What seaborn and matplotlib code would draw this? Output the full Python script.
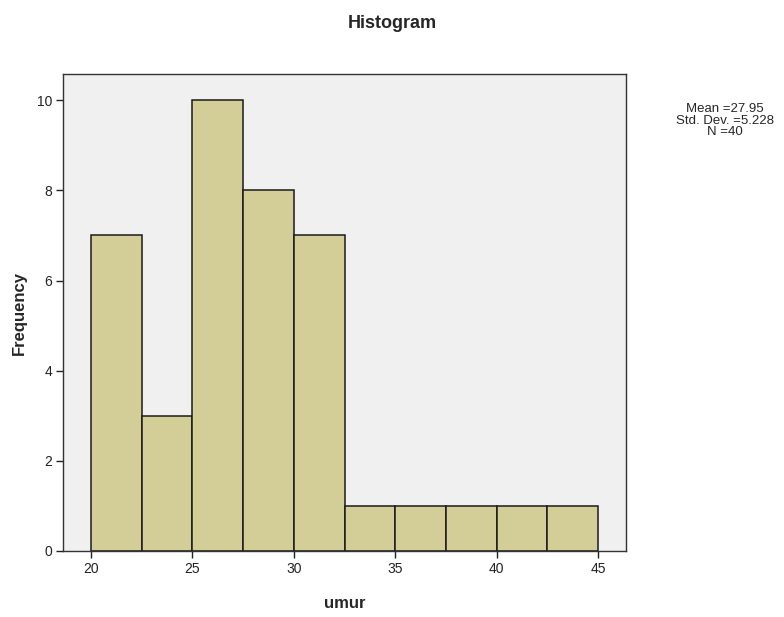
import matplotlib
matplotlib.use("Agg")
import matplotlib.pyplot as plt
import numpy as np
import seaborn as sns

# binned age data (umur), bin width 2.5
bin_edges = [20, 22.5, 25, 27.5, 30, 32.5, 35, 37.5, 40, 42.5, 45]
counts = [7, 3, 10, 8, 7, 1, 1, 1, 1, 1]
x_ticks = [20, 25, 30, 35, 40, 45]
y_ticks = [0, 2, 4, 6, 8, 10]
stats_text = "Mean =27.95\nStd. Dev. =5.228\nN =40"

sns.set_style("white")
plt.rcParams["font.family"] = ["Liberation Sans", "DejaVu Sans"]

centers = [(a + b) / 2 for a, b in zip(bin_edges[:-1], bin_edges[1:])]

fig = plt.figure(figsize=(7.84, 6.17), dpi=100)
ax = fig.add_axes([0.0804, 0.107, 0.7181, 0.773])
ax.set_facecolor("#F0F0F0")

sns.histplot(x=centers, weights=counts, bins=bin_edges, ax=ax,
             color="#D3CE97", alpha=1, edgecolor="#1a1a1a", linewidth=1.1)

ax.set_xlim(18.62, 46.38)
ax.set_ylim(0, 10.58)
ax.set_xticks(x_ticks)
ax.set_yticks(y_ticks)
ax.tick_params(axis="both", direction="out", length=5, width=1, color="#222222",
               labelcolor="#222222", labelsize=10, pad=3, bottom=True, left=True)
for s in ax.spines.values():
    s.set_color("#333333")
    s.set_linewidth(1)

ax.set_xlabel("umur", fontsize=12, fontweight="bold", labelpad=14)
ax.set_ylabel("Frequency", fontsize=12, fontweight="bold", labelpad=7)
fig.text(0.5, 0.962, "Histogram", ha="center", va="center", fontsize=13,
         fontweight="bold")
fig.text(0.925, 0.804, stats_text, ha="center", va="center", fontsize=9.5,
         linespacing=0.95)

fig.savefig("out.png", dpi=100, facecolor="white")
